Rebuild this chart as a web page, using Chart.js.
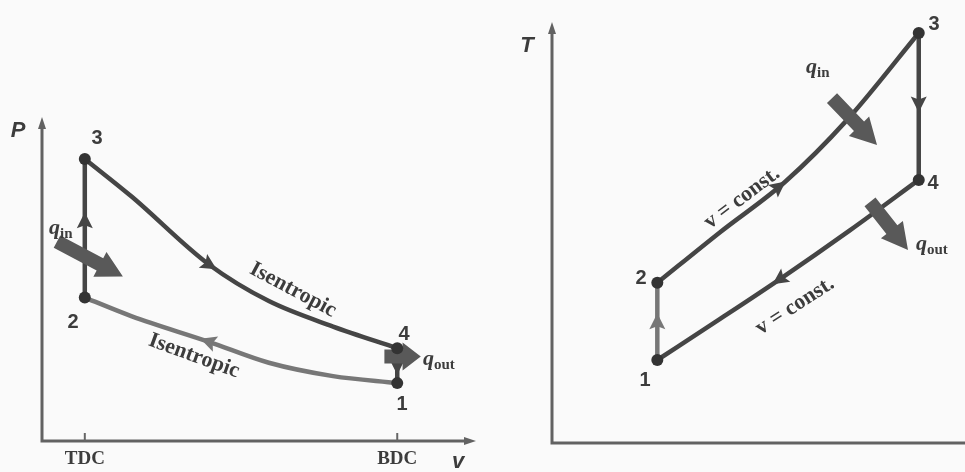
<!DOCTYPE html>
<html>
<head>
<meta charset="utf-8">
<script src="https://cdn.jsdelivr.net/npm/chart.js@4.4.1/dist/chart.umd.min.js"></script>
<style>
  html, body { margin: 0; padding: 0; background: #fafafa; }
  body { width: 965px; height: 472px; position: relative; overflow: hidden; }
  #pv { position: absolute; left: 0; top: 0; }
  #ts { position: absolute; left: 480px; top: 0; }
</style>
</head>
<body>
<canvas id="pv" width="480" height="472"></canvas>
<canvas id="ts" width="485" height="472"></canvas>
<script>
// ---- P-v diagram (Otto cycle) ----
const vTDC = 1.0;
const vBDC = 8.3;
const vCurve = [1.0, 2.1, 3.9, 5.3, 6.8, 8.3];
const pExpansion = [8.87, 7.68, 5.55, 4.40, 3.60, 2.92];   // 3 -> 4
const pCompression = [4.51, 3.92, 3.12, 2.46, 2.04, 1.82]; // 1 -> 2 (listed by v)
const pvTickLabels = ['TDC', 'BDC'];
const pvStates = [
  { n: '1', v: 8.3, p: 1.82 },
  { n: '2', v: 1.0, p: 4.51 },
  { n: '3', v: 1.0, p: 8.87 },
  { n: '4', v: 8.3, p: 2.92 }
];

// ---- T-s diagram ----
const sLeft = 2.55;
const sRight = 8.88;
const sHeatIn = [2.55, 4.07, 5.64, 7.14, 8.88];
const tHeatIn = [3.86, 5.08, 6.29, 7.78, 9.88];   // 2 -> 3
const sHeatOut = [2.55, 4.07, 5.52, 7.22, 8.88];
const tHeatOut = [2.00, 2.99, 3.95, 5.13, 6.34];  // 4 -> 1 (listed by s)
const tsStates = [
  { n: '1', s: 2.55, t: 2.00 },
  { n: '2', s: 2.55, t: 3.86 },
  { n: '3', s: 8.88, t: 9.88 },
  { n: '4', s: 8.88, t: 6.34 }
];

const dark = '#454545';
const light = '#777777';
const ink = '#3c3c3c';

function pts(xs, ys) {
  return xs.map((x, i) => ({ x: x, y: ys[i] }));
}

function lineSet(data, color, extra) {
  return Object.assign({
    data: data,
    showLine: true,
    borderColor: color,
    borderWidth: 4.5,
    pointRadius: 0,
    tension: 0.4,
    cubicInterpolationMode: 'monotone',
    clip: false
  }, extra || {});
}

// arrowhead along a dataset: at = parametric index, dir = +1 / -1
function drawFlowArrow(chart, dsIndex, at, dir, color) {
  const el = chart.getDatasetMeta(dsIndex).data;
  const i = Math.min(Math.floor(at), el.length - 2);
  const f = at - i;
  const a = el[i], b = el[i + 1];
  const x = a.x + (b.x - a.x) * f;
  const y = a.y + (b.y - a.y) * f;
  let ang = Math.atan2(b.y - a.y, b.x - a.x);
  if (dir < 0) ang += Math.PI;
  const ctx = chart.ctx;
  ctx.save();
  ctx.translate(x, y);
  ctx.rotate(ang);
  ctx.fillStyle = color;
  ctx.beginPath();
  ctx.moveTo(9, 0);
  ctx.lineTo(-7, -8);
  ctx.lineTo(-4, 0);
  ctx.lineTo(-7, 8);
  ctx.closePath();
  ctx.fill();
  ctx.restore();
}

// thick block arrow for heat transfer
function drawHeatArrow(chart, from, to) {
  const xs = chart.scales.x, ys = chart.scales.y;
  const x0 = xs.getPixelForValue(from[0]), y0 = ys.getPixelForValue(from[1]);
  const x1 = xs.getPixelForValue(to[0]), y1 = ys.getPixelForValue(to[1]);
  const len = Math.hypot(x1 - x0, y1 - y0);
  const ang = Math.atan2(y1 - y0, x1 - x0);
  const ctx = chart.ctx;
  const head = Math.min(26, len * 0.5);
  ctx.save();
  ctx.translate(x0, y0);
  ctx.rotate(ang);
  ctx.fillStyle = '#595959';
  ctx.beginPath();
  ctx.moveTo(0, -7);
  ctx.lineTo(len - head, -7);
  ctx.lineTo(len - head, -14);
  ctx.lineTo(len, 0);
  ctx.lineTo(len - head, 14);
  ctx.lineTo(len - head, 7);
  ctx.lineTo(0, 7);
  ctx.closePath();
  ctx.fill();
  ctx.restore();
}

function drawAxes(chart, arrowRight) {
  const a = chart.chartArea, ctx = chart.ctx;
  ctx.save();
  ctx.strokeStyle = '#626262';
  ctx.fillStyle = '#626262';
  ctx.lineWidth = 3;
  ctx.beginPath();
  ctx.moveTo(a.left, a.top);
  ctx.lineTo(a.left, a.bottom);
  ctx.lineTo(a.right, a.bottom);
  ctx.stroke();
  ctx.beginPath();
  ctx.moveTo(a.left, a.top - 6);
  ctx.lineTo(a.left - 4, a.top + 6);
  ctx.lineTo(a.left + 4, a.top + 6);
  ctx.closePath();
  ctx.fill();
  if (arrowRight) {
    ctx.beginPath();
    ctx.moveTo(a.right + 6, a.bottom);
    ctx.lineTo(a.right - 6, a.bottom - 4);
    ctx.lineTo(a.right - 6, a.bottom + 4);
    ctx.closePath();
    ctx.fill();
  }
  ctx.restore();
}

function drawText(ctx, txt, x, y, font, rot) {
  ctx.save();
  ctx.translate(x, y);
  if (rot) ctx.rotate(rot * Math.PI / 180);
  ctx.font = font;
  ctx.fillStyle = ink;
  ctx.textAlign = 'center';
  ctx.textBaseline = 'middle';
  ctx.fillText(txt, 0, 0);
  ctx.restore();
}

function drawQ(ctx, sub, x, y) {
  ctx.save();
  ctx.fillStyle = ink;
  ctx.textBaseline = 'alphabetic';
  ctx.font = 'italic bold 22px "Liberation Serif", serif';
  ctx.fillText('q', x, y);
  const w = ctx.measureText('q').width;
  ctx.font = 'bold 15px "Liberation Serif", serif';
  ctx.fillText(sub, x + w, y + 4);
  ctx.restore();
}

const numFont = 'bold 20px "Liberation Sans", Arial, sans-serif';
const serifFont = 'bold 19px "Liberation Serif", serif';
const labelFont = 'bold 22px "Liberation Serif", serif';
const axisFont = 'italic bold 22px "Liberation Sans", Arial, sans-serif';

const pvPlugin = {
  id: 'pvDecor',
  afterDatasetsDraw(chart) {
    const ctx = chart.ctx, xs = chart.scales.x, ys = chart.scales.y;
    drawAxes(chart, true);
    // TDC / BDC ticks
    [vTDC, vBDC].forEach((v, i) => {
      const px = xs.getPixelForValue(v);
      ctx.save();
      ctx.strokeStyle = '#666';
      ctx.lineWidth = 2;
      ctx.beginPath();
      ctx.moveTo(px, chart.chartArea.bottom - 8);
      ctx.lineTo(px, chart.chartArea.bottom);
      ctx.stroke();
      ctx.restore();
      drawText(ctx, pvTickLabels[i], px, chart.chartArea.bottom + 18, serifFont);
    });
    drawText(ctx, 'P', 18, 131, axisFont);
    drawText(ctx, 'v', 458, 462, axisFont);

    drawFlowArrow(chart, 0, 2, 1, dark);     // 3 -> 4
    drawFlowArrow(chart, 1, 2, -1, light);   // 1 -> 2
    drawFlowArrow(chart, 2, 0.55, 1, dark);  // 2 -> 3
    drawFlowArrow(chart, 3, 0.5, 1, dark);   // 4 -> 1

    drawHeatArrow(chart, [0.35, 6.27], [1.89, 5.17]);
    drawHeatArrow(chart, [8.0, 2.66], [8.85, 2.66]);

    pvStates.forEach(s => {
      const px = xs.getPixelForValue(s.v), py = ys.getPixelForValue(s.p);
      ctx.save();
      ctx.fillStyle = '#333';
      ctx.beginPath();
      ctx.arc(px, py, 6, 0, Math.PI * 2);
      ctx.fill();
      ctx.restore();
    });
    drawText(ctx, '3', 97, 138, numFont);
    drawText(ctx, '2', 73, 322, numFont);
    drawText(ctx, '4', 404, 334, numFont);
    drawText(ctx, '1', 402, 404, numFont);

    drawQ(ctx, 'in', 49, 234);
    drawQ(ctx, 'out', 423, 365);
    drawText(ctx, 'Isentropic', 293, 290, labelFont, 28);
    drawText(ctx, 'Isentropic', 194, 356, labelFont, 20);
  }
};

const tsPlugin = {
  id: 'tsDecor',
  afterDatasetsDraw(chart) {
    const ctx = chart.ctx, xs = chart.scales.x, ys = chart.scales.y;
    drawAxes(chart, false);
    drawText(ctx, 'T', 47, 46, axisFont);

    drawFlowArrow(chart, 0, 1.9, 1, dark);   // 2 -> 3
    drawFlowArrow(chart, 1, 2, -1, dark);    // 4 -> 1
    drawFlowArrow(chart, 2, 0.49, 1, light); // 1 -> 2
    drawFlowArrow(chart, 3, 0.48, 1, dark);  // 3 -> 4

    drawHeatArrow(chart, [6.78, 8.31], [7.87, 7.18]);
    drawHeatArrow(chart, [7.70, 5.81], [8.62, 4.65]);

    tsStates.forEach(s => {
      const px = xs.getPixelForValue(s.s), py = ys.getPixelForValue(s.t);
      ctx.save();
      ctx.fillStyle = '#333';
      ctx.beginPath();
      ctx.arc(px, py, 6, 0, Math.PI * 2);
      ctx.fill();
      ctx.restore();
    });
    drawText(ctx, '3', 454, 24, numFont);
    drawText(ctx, '4', 453, 183, numFont);
    drawText(ctx, '2', 161, 278, numFont);
    drawText(ctx, '1', 165, 380, numFont);

    drawQ(ctx, 'in', 326, 73);
    drawQ(ctx, 'out', 436, 250);
    drawText(ctx, 'v = const.', 262, 198, labelFont, -37);
    drawText(ctx, 'v = const.', 315, 306, labelFont, -33);
  }
};

const hiddenScales = {
  x: { type: 'linear', min: 0, max: 10, display: false },
  y: { type: 'linear', min: 0, max: 10, display: false }
};

const baseOptions = (pad) => ({
  responsive: false,
  animation: false,
  layout: { padding: pad },
  plugins: { legend: { display: false }, tooltip: { enabled: false } },
  scales: hiddenScales
});

new Chart(document.getElementById('pv'), {
  type: 'scatter',
  data: {
    datasets: [
      lineSet(pts(vCurve, pExpansion), dark),
      lineSet(pts(vCurve, pCompression), light),
      lineSet(pts([vTDC, vTDC], [pCompression[0], pExpansion[0]]), dark, { tension: 0 }),
      lineSet(pts([vBDC, vBDC], [pExpansion[5], pCompression[5]]), dark, { tension: 0 })
    ]
  },
  options: baseOptions({ left: 42, right: 10, top: 123, bottom: 31 }),
  plugins: [pvPlugin]
});

new Chart(document.getElementById('ts'), {
  type: 'scatter',
  data: {
    datasets: [
      lineSet(pts(sHeatIn, tHeatIn), dark),
      lineSet(pts(sHeatOut, tHeatOut), dark),
      lineSet(pts([sLeft, sLeft], [tHeatOut[0], tHeatIn[0]]), light, { tension: 0 }),
      lineSet(pts([sRight, sRight], [tHeatIn[4], tHeatOut[4]]), dark, { tension: 0 })
    ]
  },
  options: baseOptions({ left: 72, right: 0, top: 28, bottom: 29 }),
  plugins: [tsPlugin]
});
</script>
</body>
</html>
